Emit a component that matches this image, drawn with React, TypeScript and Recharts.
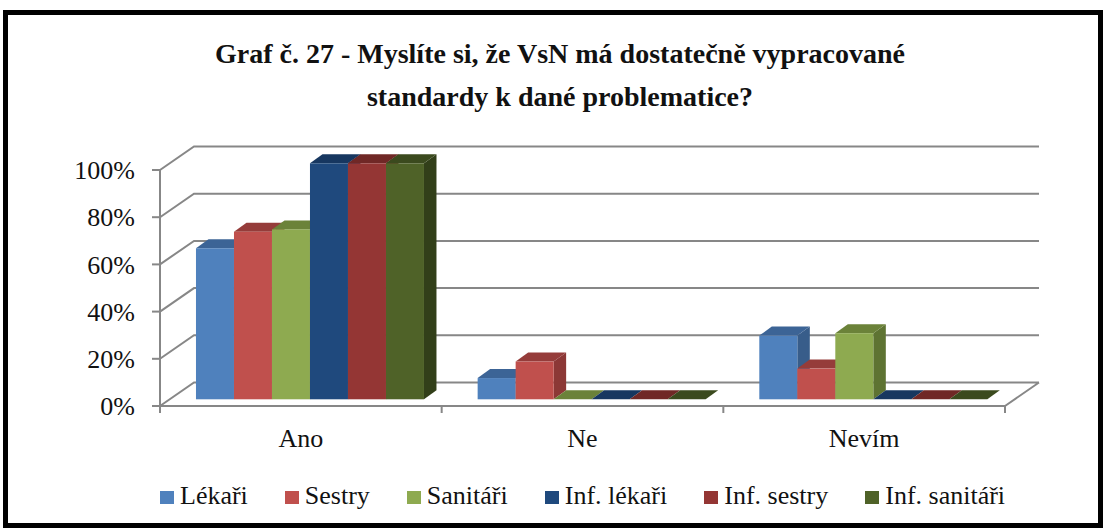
import React from 'react';
import { BarChart, Bar, XAxis, YAxis, CartesianGrid, Legend } from 'recharts';

const categories = ['Ano', 'Ne', 'Nevím'];
const seriesNames = ['Lékaři', 'Sestry', 'Sanitáři', 'Inf. lékaři', 'Inf. sestry', 'Inf. sanitáři'];
const lekari = [0.64, 0.09, 0.27];
const sestry = [0.71, 0.16, 0.13];
const sanitari = [0.72, 0, 0.28];
const infLekari = [1, 0, 0];
const infSestry = [1, 0, 0];
const infSanitari = [1, 0, 0];
const yTicks = [0, 0.2, 0.4, 0.6, 0.8, 1];

const seriesValues = [lekari, sestry, sanitari, infLekari, infSestry, infSanitari];
const seriesColors = [
  { front: '#4F81BD', top: '#3C6496', side: '#385D8A' },
  { front: '#C0504D', top: '#953C3A', side: '#8C3836' },
  { front: '#8EAA50', top: '#6B8239', side: '#5E7332' },
  { front: '#1F497D', top: '#173760', side: '#14325A' },
  { front: '#943634', top: '#702826', side: '#692524' },
  { front: '#4F6228', top: '#3B4A1E', side: '#323F19' },
];

const data = categories.map((name, i) => {
  const row: Record<string, any> = { name };
  seriesValues.forEach((vals, s) => {
    row['s' + s] = vals[i];
  });
  return row;
});

const FONT = 'Liberation Serif';
const INK = '#111111';
const GRID = '#878787';
const DX = 34;
const DY = -23.5;

const make3D = (c: { front: string; top: string; side: string }) => (props: any) => {
  const { x, y, width, height } = props;
  if (x == null || y == null) return null;
  const ox = 9.5, oy = -6.7, dx = 12.5, dy = -9;
  const h = Math.max(height || 0, 0);
  const fx = x + ox;
  const fy = y + oy;
  const w = width;
  return (
    <g>
      <path d={`M${fx + w},${fy} L${fx + w + dx},${fy + dy} L${fx + w + dx},${fy + h + dy} L${fx + w},${fy + h} Z`} fill={c.side} />
      <path d={`M${fx},${fy} L${fx + dx},${fy + dy} L${fx + w + dx},${fy + dy} L${fx + w},${fy} Z`} fill={c.top} />
      <rect x={fx} y={fy} width={w} height={h} fill={c.front} />
    </g>
  );
};

const gridLine = (p: any) => {
  const { x1, y1, x2 } = p;
  const bottom = Math.abs(y1 - (p.y + p.height)) < 1;
  let d = `M${x1},${y1} L${x1 + DX},${y1 + DY} L${x2 + DX},${y1 + DY}`;
  if (bottom) d += ` M${x2},${y1} L${x2 + DX},${y1 + DY}`;
  return <path key={p.key ?? `g-${p.index}`} d={d} stroke={GRID} strokeWidth={2} fill="none" />;
};

const XTick = (props: any) => {
  const { x, y, payload, index } = props;
  const off = payload && payload.offset ? payload.offset : 0;
  const axisY = y;
  return (
    <g>
      <line x1={x - off} y1={axisY} x2={x - off} y2={axisY + 7} stroke={GRID} strokeWidth={2} />
      {index === categories.length - 1 ? (
        <line x1={x + off} y1={axisY} x2={x + off} y2={axisY + 7} stroke={GRID} strokeWidth={2} />
      ) : null}
      <text x={x} y={axisY + 41} textAnchor="middle" fontFamily={FONT} fontSize={26} fill={INK}>
        {payload.value}
      </text>
    </g>
  );
};

const renderLegend = () => (
  <div style={{ display: 'flex', flexDirection: 'row', alignItems: 'center', fontFamily: FONT, fontSize: 26, lineHeight: '30px', color: INK, whiteSpace: 'nowrap' }}>
    {seriesNames.map((n, i) => (
      <div key={n} style={{ display: 'flex', alignItems: 'center', marginRight: 37 }}>
        <span style={{ display: 'inline-block', width: 14, height: 13, background: seriesColors[i].front, marginRight: 6, marginTop: 2 }} />
        <span>{n}</span>
      </div>
    ))}
  </div>
);

export default function App() {
  return (
    <div style={{ position: 'absolute', left: 0, top: 0, width: 1106, height: 531, background: '#fff', overflow: 'hidden' }}>
      <div style={{ position: 'absolute', left: 3, top: 10, width: 1100, height: 518, border: '5px solid #000', boxSizing: 'border-box' }} />
      <div style={{ position: 'absolute', left: 0, top: 32, width: 1120, textAlign: 'center', fontFamily: FONT, fontWeight: 'bold', fontSize: 28, lineHeight: '43px', color: INK }}>
        <div>Graf č. 27 - Myslíte si, že VsN má dostatečně vypracované</div>
        <div>standardy k dané problematice?</div>
      </div>
      <BarChart
        width={1106}
        height={531}
        data={data}
        margin={{ top: 170, right: 101, bottom: 65, left: 90 }}
        barCategoryGap="9.4%"
        barGap={0}
      >
        <CartesianGrid vertical={false} horizontal={gridLine as any} />
        <YAxis
          domain={[0, 1]}
          ticks={yTicks}
          width={70}
          tickFormatter={(v: number) => `${Math.round(v * 100)}%`}
          axisLine={{ stroke: GRID, strokeWidth: 2 }}
          tickLine={{ stroke: GRID, strokeWidth: 2 }}
          tickSize={8}
          tickMargin={17}
          tick={{ fontFamily: FONT, fontSize: 26, fill: INK }}
          interval={0}
        />
        <XAxis
          dataKey="name"
          height={60}
          axisLine={{ stroke: GRID, strokeWidth: 2 }}
          tickLine={false}
          tickSize={0}
          tickMargin={0}
          tick={<XTick />}
          interval={0}
        />
        <Legend
          layout="horizontal"
          verticalAlign="middle"
          align="center"
          wrapperStyle={{ top: 481, left: 160, width: 940 }}
          content={renderLegend}
        />
        {seriesNames.map((n, s) => (
          <Bar key={n} dataKey={'s' + s} name={n} isAnimationActive={false} shape={make3D(seriesColors[s])} />
        ))}
      </BarChart>
    </div>
  );
}
